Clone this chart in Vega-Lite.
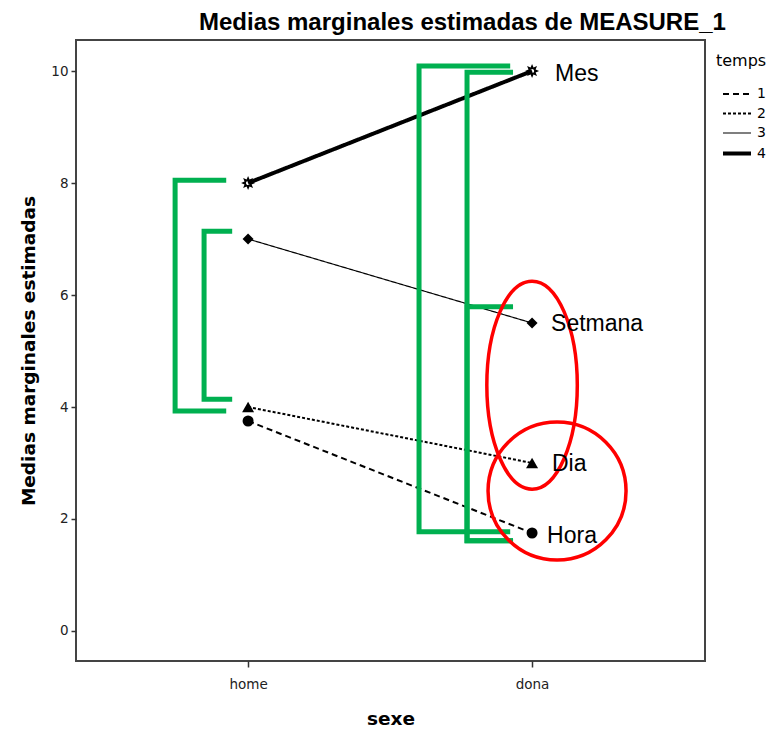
{
  "$schema": "https://vega.github.io/schema/vega-lite/v6.json",
  "autosize": {"type": "none"},
  "width": 629,
  "height": 621,
  "padding": {"left": 76, "top": 40, "right": 68, "bottom": 70},
  "background": "white",
  "title": {
    "text": "Medias marginales estimadas de MEASURE_1",
    "anchor": "start",
    "frame": "group",
    "dx": 123,
    "dy": 25,
    "offset": 11,
    "baseline": "alphabetic",
    "font": "Liberation Sans",
    "fontSize": 24,
    "fontWeight": "bold",
    "color": "#000000"
  },
  "config": {
    "view": {"stroke": "#444444", "strokeWidth": 2},
    "axis": {
      "grid": false,
      "domain": false,
      "tickColor": "#333333",
      "tickWidth": 1.5,
      "labelFont": "DejaVu Sans",
      "labelFontSize": 13.5,
      "labelColor": "#222222",
      "titleFont": "DejaVu Sans",
      "titleFontWeight": "bold",
      "titleFontSize": 18.5,
      "titleColor": "#000000"
    },
    "legend": {
      "titleFont": "DejaVu Sans",
      "titleFontSize": 16,
      "titleFontWeight": "normal",
      "titleColor": "#000000",
      "labelFont": "DejaVu Sans",
      "labelFontSize": 14,
      "labelColor": "#000000"
    }
  },
  "datasets": {
    "medias": [
      {"sexe": 1, "temps": "1", "media": 3.75},
      {"sexe": 2, "temps": "1", "media": 1.75},
      {"sexe": 1, "temps": "2", "media": 4.0},
      {"sexe": 2, "temps": "2", "media": 3.0},
      {"sexe": 1, "temps": "3", "media": 7.0},
      {"sexe": 2, "temps": "3", "media": 5.5},
      {"sexe": 1, "temps": "4", "media": 8.0},
      {"sexe": 2, "temps": "4", "media": 10.0}
    ],
    "claus": [
      {"clau": "A", "ordre": 1, "x": 0.923, "y": 8.05},
      {"clau": "A", "ordre": 2, "x": 0.743, "y": 8.05},
      {"clau": "A", "ordre": 3, "x": 0.743, "y": 3.93},
      {"clau": "A", "ordre": 4, "x": 0.923, "y": 3.93},
      {"clau": "B", "ordre": 1, "x": 0.944, "y": 7.14},
      {"clau": "B", "ordre": 2, "x": 0.845, "y": 7.14},
      {"clau": "B", "ordre": 3, "x": 0.845, "y": 4.14},
      {"clau": "B", "ordre": 4, "x": 0.944, "y": 4.14},
      {"clau": "C", "ordre": 1, "x": 1.923, "y": 10.09},
      {"clau": "C", "ordre": 2, "x": 1.602, "y": 10.09},
      {"clau": "C", "ordre": 3, "x": 1.602, "y": 1.77},
      {"clau": "C", "ordre": 4, "x": 1.923, "y": 1.77},
      {"clau": "D", "ordre": 1, "x": 1.933, "y": 9.98},
      {"clau": "D", "ordre": 2, "x": 1.771, "y": 9.98},
      {"clau": "D", "ordre": 3, "x": 1.771, "y": 1.61},
      {"clau": "D", "ordre": 4, "x": 1.933, "y": 1.61},
      {"clau": "E", "ordre": 1, "x": 1.933, "y": 5.79},
      {"clau": "E", "ordre": 2, "x": 1.771, "y": 5.79},
      {"clau": "E", "ordre": 3, "x": 1.771, "y": 1.61},
      {"clau": "E", "ordre": 4, "x": 1.933, "y": 1.61}
    ],
    "etiquetes": [
      {"x": 2.081, "y": 9.955, "text": "Mes"},
      {"x": 2.067, "y": 5.48, "text": "Setmana"},
      {"x": 2.07, "y": 2.98, "text": "Dia"},
      {"x": 2.053, "y": 1.7, "text": "Hora"}
    ]
  },
  "layer": [
    {
      "data": {"name": "medias"},
      "mark": {"type": "line", "color": "#000000"},
      "encoding": {
        "x": {
          "field": "sexe",
          "type": "quantitative",
          "scale": {"domain": [0.394, 2.609], "nice": false, "zero": false},
          "axis": {
            "values": [1, 2],
            "labelExpr": "datum.value == 1 ? 'home' : 'dona'",
            "tickSize": 6,
            "labelPadding": 10,
            "title": "sexe",
            "titlePadding": 19
          }
        },
        "y": {
          "field": "media",
          "type": "quantitative",
          "scale": {"domain": [-0.536, 10.554], "nice": false, "zero": false},
          "axis": {
            "values": [0, 2, 4, 6, 8, 10],
            "format": "d",
            "tickSize": 5,
            "labelPadding": 3,
            "title": "Medias marginales estimadas",
            "titlePadding": 12
          }
        },
        "detail": {"field": "temps"},
        "strokeDash": {
          "field": "temps",
          "type": "nominal",
          "scale": {"domain": ["1", "2", "3", "4"], "range": [[6, 4], [3, 2], [1, 0], [1, 0]]},
          "legend": {
            "title": "temps",
            "orient": "none",
            "legendX": 640,
            "legendY": 13,
            "symbolType": "M-1.4,0L1.4,0",
            "symbolSize": 400,
            "symbolStrokeColor": "#000000",
            "symbolOffset": 14,
            "labelOffset": 13,
            "rowPadding": 5.5,
            "titlePadding": 18,
            "encode": {
              "symbols": {
                "update": {
                  "strokeWidth": {"signal": "datum.value == '4' ? 4 : datum.value == '3' ? 1.2 : 2"}
                }
              }
            }
          }
        },
        "strokeWidth": {
          "condition": [
            {"test": "datum.temps == '4'", "value": 4},
            {"test": "datum.temps == '3'", "value": 1.2}
          ],
          "value": 2
        }
      }
    },
    {
      "data": {"name": "medias"},
      "transform": [{"filter": "datum.temps == '1'"}],
      "mark": {"type": "point", "shape": "circle", "size": 121, "filled": true, "color": "#000000", "opacity": 1},
      "encoding": {
        "x": {"field": "sexe", "type": "quantitative"},
        "y": {"field": "media", "type": "quantitative"}
      }
    },
    {
      "data": {"name": "medias"},
      "transform": [{"filter": "datum.temps == '2'"}],
      "mark": {"type": "point", "shape": "triangle-up", "size": 144, "filled": true, "color": "#000000", "opacity": 1},
      "encoding": {
        "x": {"field": "sexe", "type": "quantitative"},
        "y": {"field": "media", "type": "quantitative"}
      }
    },
    {
      "data": {"name": "medias"},
      "transform": [{"filter": "datum.temps == '3'"}],
      "mark": {"type": "point", "shape": "diamond", "size": 121, "filled": true, "color": "#000000", "opacity": 1},
      "encoding": {
        "x": {"field": "sexe", "type": "quantitative"},
        "y": {"field": "media", "type": "quantitative"}
      }
    },
    {
      "data": {"name": "medias"},
      "transform": [{"filter": "datum.temps == '4'"}],
      "mark": {
        "type": "point",
        "shape": "M1,0L0.508,0.211L0.707,0.707L0.211,0.508L0,1L-0.211,0.508L-0.707,0.707L-0.508,0.211L-1,0L-0.508,-0.211L-0.707,-0.707L-0.211,-0.508L0,-1L0.211,-0.508L0.707,-0.707L0.508,-0.211ZM0.3,0A0.3,0.3 0 1,0 -0.3,0A0.3,0.3 0 1,0 0.3,0Z",
        "size": 196,
        "filled": true,
        "color": "#000000",
        "opacity": 1
      },
      "encoding": {
        "x": {"field": "sexe", "type": "quantitative"},
        "y": {"field": "media", "type": "quantitative"}
      }
    },
    {
      "data": {"name": "claus"},
      "mark": {"type": "line", "color": "#00b050", "strokeWidth": 5, "strokeCap": "butt", "strokeJoin": "miter"},
      "encoding": {
        "x": {"field": "x", "type": "quantitative"},
        "y": {"field": "y", "type": "quantitative"},
        "detail": {"field": "clau"},
        "order": {"field": "ordre", "type": "quantitative"}
      }
    },
    {
      "data": {"values": [{"x": 2.0, "y": 4.39}]},
      "mark": {
        "type": "point",
        "shape": "M-0.435,0A0.435,1 0 1,0 0.435,0A0.435,1 0 1,0 -0.435,0Z",
        "size": 43264,
        "filled": false,
        "color": "#ff0000",
        "strokeWidth": 3.5,
        "opacity": 1
      },
      "encoding": {
        "x": {"field": "x", "type": "quantitative"},
        "y": {"field": "y", "type": "quantitative"}
      }
    },
    {
      "data": {"values": [{"x": 2.088, "y": 2.5}]},
      "mark": {
        "type": "point",
        "shape": "circle",
        "size": 19044,
        "filled": false,
        "color": "#ff0000",
        "strokeWidth": 3.5,
        "opacity": 1
      },
      "encoding": {
        "x": {"field": "x", "type": "quantitative"},
        "y": {"field": "y", "type": "quantitative"}
      }
    },
    {
      "data": {"name": "etiquetes"},
      "mark": {"type": "text", "align": "left", "baseline": "middle", "font": "Liberation Sans", "fontSize": 23, "color": "#000000"},
      "encoding": {
        "x": {"field": "x", "type": "quantitative"},
        "y": {"field": "y", "type": "quantitative"},
        "text": {"field": "text"}
      }
    }
  ]
}
